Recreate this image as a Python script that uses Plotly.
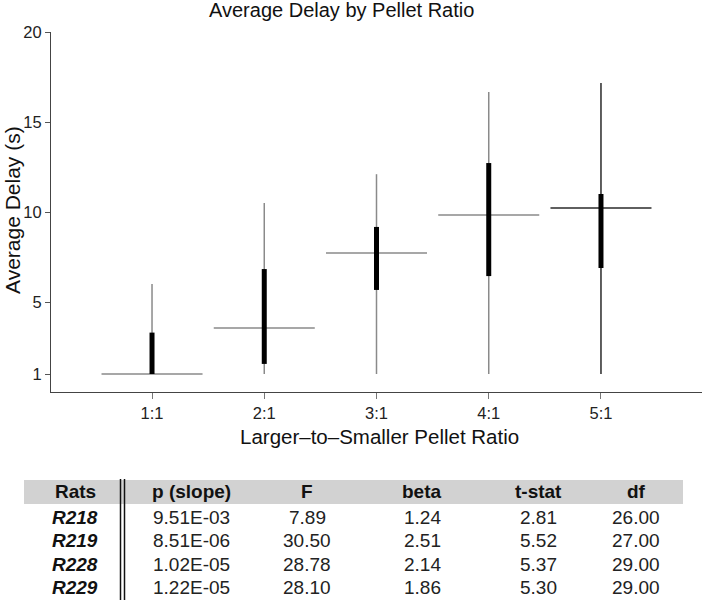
import plotly.graph_objects as go

# ---- chart data ----
ratios = ["1:1", "2:1", "3:1", "4:1", "5:1"]
mean_delay = [1.0, 3.56, 7.72, 9.83, 10.22]
range_low = [1.0, 1.0, 1.0, 1.0, 1.0]
range_high = [6.0, 10.5, 12.1, 16.67, 17.17]
iqr_low = [1.0, 1.56, 5.67, 6.44, 6.89]
iqr_high = [3.3, 6.83, 9.17, 12.72, 11.0]
y_ticks = [1, 5, 10, 15, 20]

# ---- table data ----
col_headers = ["Rats", "p (slope)", "F", "beta", "t-stat", "df"]
rats = ["R218", "R219", "R228", "R229"]
p_slope = ["9.51E-03", "8.51E-06", "1.02E-05", "1.22E-05"]
f_vals = ["7.89", "30.50", "28.78", "28.10"]
beta_vals = ["1.24", "2.51", "2.14", "1.86"]
tstat_vals = ["2.81", "5.52", "5.37", "5.30"]
df_vals = ["26.00", "27.00", "29.00", "29.00"]

W, H = 702, 600
# plot area in page pixels: x 51..702, y 32..392
L, R, T, B = 51, 0, 32, 600 - 392
PW, PH = W - L - R, H - T - B

def px(x):
    return (x - L) / PW

def py(y):
    return (H - B - y) / PH

FONT = "Liberation Sans, Arial, sans-serif"
line_colors = ["#8a8a8a", "#8a8a8a", "#8a8a8a", "#8a8a8a", "#2a2a2a"]

fig = go.Figure()
half = 0.45
for i, name in enumerate(ratios):
    xi = i + 1
    c = line_colors[i]
    fig.add_trace(go.Scatter(x=[xi, xi], y=[range_low[i], range_high[i]], mode="lines",
                             line=dict(color=c, width=1.5), showlegend=False, hoverinfo="skip"))
    fig.add_trace(go.Scatter(x=[xi - half, xi + half], y=[mean_delay[i], mean_delay[i]], mode="lines",
                             line=dict(color=c, width=1.5), showlegend=False, hoverinfo="skip"))
    fig.add_trace(go.Scatter(x=[xi, xi], y=[iqr_low[i], iqr_high[i]], mode="lines",
                             line=dict(color="#000000", width=5), showlegend=False, hoverinfo="skip"))

fig.update_layout(
    width=W, height=H,
    margin=dict(l=L, r=R, t=T, b=B, pad=0),
    plot_bgcolor="white", paper_bgcolor="white",
    font=dict(family=FONT, color="#222"),
    xaxis=dict(range=[0.1, 5.9], tickvals=[1, 2, 3, 4, 5], ticktext=ratios,
               showgrid=False, zeroline=False, showline=True, linecolor="#444", linewidth=1,
               ticks="outside", ticklen=6, tickcolor="#777", tickfont=dict(size=16.5, family=FONT, color="#222")),
    yaxis=dict(range=[0, 20], tickvals=y_ticks, ticktext=[str(t) for t in y_ticks],
               showgrid=False, zeroline=False, showline=True, linecolor="#444", linewidth=1,
               ticks="outside", ticklen=5, tickcolor="#555", tickfont=dict(size=16.5, family=FONT, color="#222")),
)

ann = []
ann.append(dict(text="Average Delay by Pellet Ratio", x=px(341), y=py(10), xref="paper", yref="paper",
                showarrow=False, font=dict(size=20, family=FONT, color="#111"), xanchor="center", yanchor="middle"))
ann.append(dict(text="Average Delay (s)", x=px(12), y=py(210), xref="paper", yref="paper", textangle=-90,
                showarrow=False, font=dict(size=21, family=FONT, color="#111"), xanchor="center", yanchor="middle"))
ann.append(dict(text="Larger\u2013to\u2013Smaller Pellet Ratio", x=px(379), y=py(436), xref="paper", yref="paper",
                showarrow=False, font=dict(size=20.5, family=FONT, color="#111"), xanchor="center", yanchor="middle"))

# table
col_x = [75, 191, 307, 422, 538, 636]
header_y = 492
row_y = [517, 540, 564, 587]
shapes = [
    dict(type="rect", xref="paper", yref="paper", x0=px(24), x1=px(683), y0=py(480), y1=py(504),
         fillcolor="#d2d2d2", line=dict(width=0), layer="below"),
    dict(type="line", xref="paper", yref="paper", x0=px(120.5), x1=px(120.5), y0=py(479), y1=py(600),
         line=dict(color="#111", width=1.5)),
    dict(type="line", xref="paper", yref="paper", x0=px(124.5), x1=px(124.5), y0=py(479), y1=py(600),
         line=dict(color="#111", width=1.5)),
]
for cx, h in zip(col_x, col_headers):
    ann.append(dict(text="<b>" + h + "</b>", x=px(cx), y=py(header_y), xref="paper", yref="paper",
                    showarrow=False, font=dict(size=19, family=FONT, color="#111"), xanchor="center", yanchor="middle"))
columns = [p_slope, f_vals, beta_vals, tstat_vals, df_vals]
for r, ry in enumerate(row_y):
    ann.append(dict(text="<b><i>" + rats[r] + "</i></b>", x=px(col_x[0]), y=py(ry), xref="paper", yref="paper",
                    showarrow=False, font=dict(size=19, family=FONT, color="#111"), xanchor="center", yanchor="middle"))
    for c, col in enumerate(columns):
        ann.append(dict(text=col[r], x=px(col_x[c + 1]), y=py(ry), xref="paper", yref="paper",
                        showarrow=False, font=dict(size=19, family=FONT, color="#222"), xanchor="center", yanchor="middle"))

fig.update_layout(annotations=ann, shapes=shapes)
# remove the browser's default body margin so the figure sits at the page's top-left corner
fig.write_html("out.html", config={"displayModeBar": False},
               post_script="document.body.style.margin='0';")
